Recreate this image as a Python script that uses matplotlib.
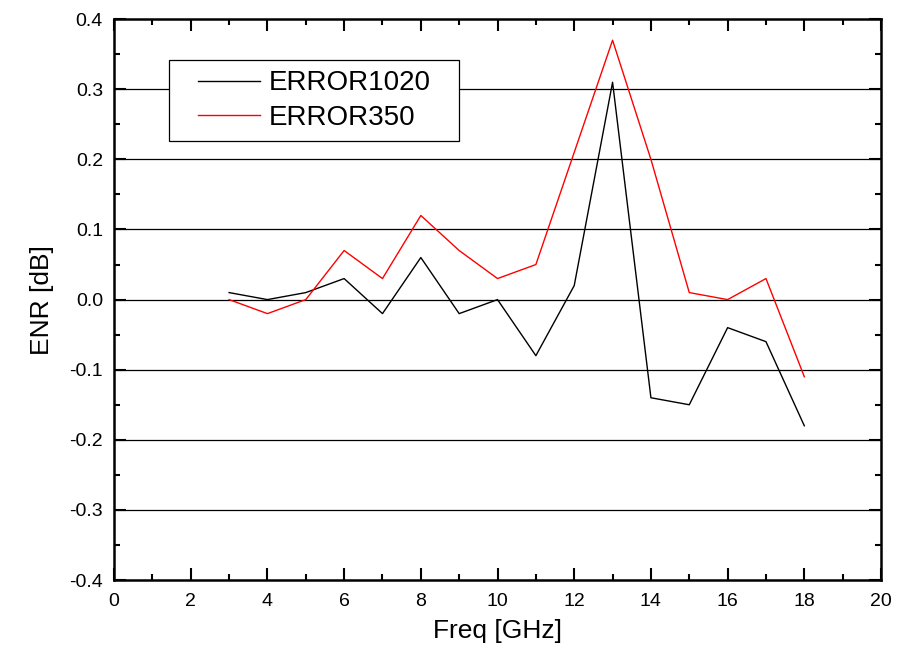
import matplotlib
matplotlib.use("Agg")
import matplotlib.pyplot as plt
from matplotlib.patches import Rectangle
from matplotlib.ticker import MultipleLocator

plt.rcParams['font.family'] = ['Liberation Sans', 'DejaVu Sans']

freq = [3, 4, 5, 6, 7, 8, 9, 10, 11, 12, 13, 14, 15, 16, 17, 18]
error1020 = [0.01, 0.0, 0.01, 0.03, -0.02, 0.06, -0.02, 0.0, -0.08, 0.02, 0.31, -0.14, -0.15, -0.04, -0.06, -0.18]
error350 = [0.0, -0.02, 0.0, 0.07, 0.03, 0.12, 0.07, 0.03, 0.05, 0.21, 0.37, 0.2, 0.01, 0.0, 0.03, -0.11]
xticks = [0, 2, 4, 6, 8, 10, 12, 14, 16, 18, 20]
yticks = [-0.4, -0.3, -0.2, -0.1, 0.0, 0.1, 0.2, 0.3, 0.4]
ytick_labels = ["-0.4", "-0.3", "-0.2", "-0.1", "0.0", "0.1", "0.2", "0.3", "0.4"]

fig = plt.figure(figsize=(9.05, 6.61), dpi=100)
ax = fig.add_axes([0.126, 0.1225, 0.8475, 0.8485])

ax.plot(freq, error1020, color='black', lw=1.0, label='ERROR1020', zorder=2)
ax.plot(freq, error350, color='red', lw=1.0, label='ERROR350', zorder=2)

ax.set_xlim(0, 20)
ax.set_ylim(-0.4, 0.4)
ax.set_xticks(xticks)
ax.set_yticks(yticks)
ax.set_yticklabels(ytick_labels)
ax.xaxis.set_minor_locator(MultipleLocator(1))
ax.yaxis.set_minor_locator(MultipleLocator(0.05))

for y in yticks[1:-1]:
    ax.axhline(y, color='black', lw=0.9, zorder=1)

for s in ax.spines.values():
    s.set_linewidth(1.8)

ax.tick_params(which='both', direction='in', top=True, right=True, width=1.5)
ax.tick_params(which='major', length=8.5, labelsize=14)
ax.tick_params(axis='x', which='major', pad=9)
ax.tick_params(axis='y', which='major', pad=8)
ax.tick_params(which='minor', length=4.3)

ax.set_xlabel('Freq [GHz]', fontsize=19, labelpad=7)
ax.set_ylabel('ENR [dB]', fontsize=19, labelpad=11)

# legend frame
rect = Rectangle((0.0717, 0.7825), 0.378, 0.1445, transform=ax.transAxes,
                 facecolor='white', edgecolor='black', lw=0.9, zorder=3)
ax.add_patch(rect)
leg = ax.legend(loc='center left', bbox_to_anchor=(0.1095, 0.8547), frameon=False,
                fontsize=20, borderpad=0, borderaxespad=0, handlelength=2.23,
                handletextpad=0.3, labelspacing=0.3)
leg.set_zorder(4)

fig.savefig('out.png', dpi=100)
